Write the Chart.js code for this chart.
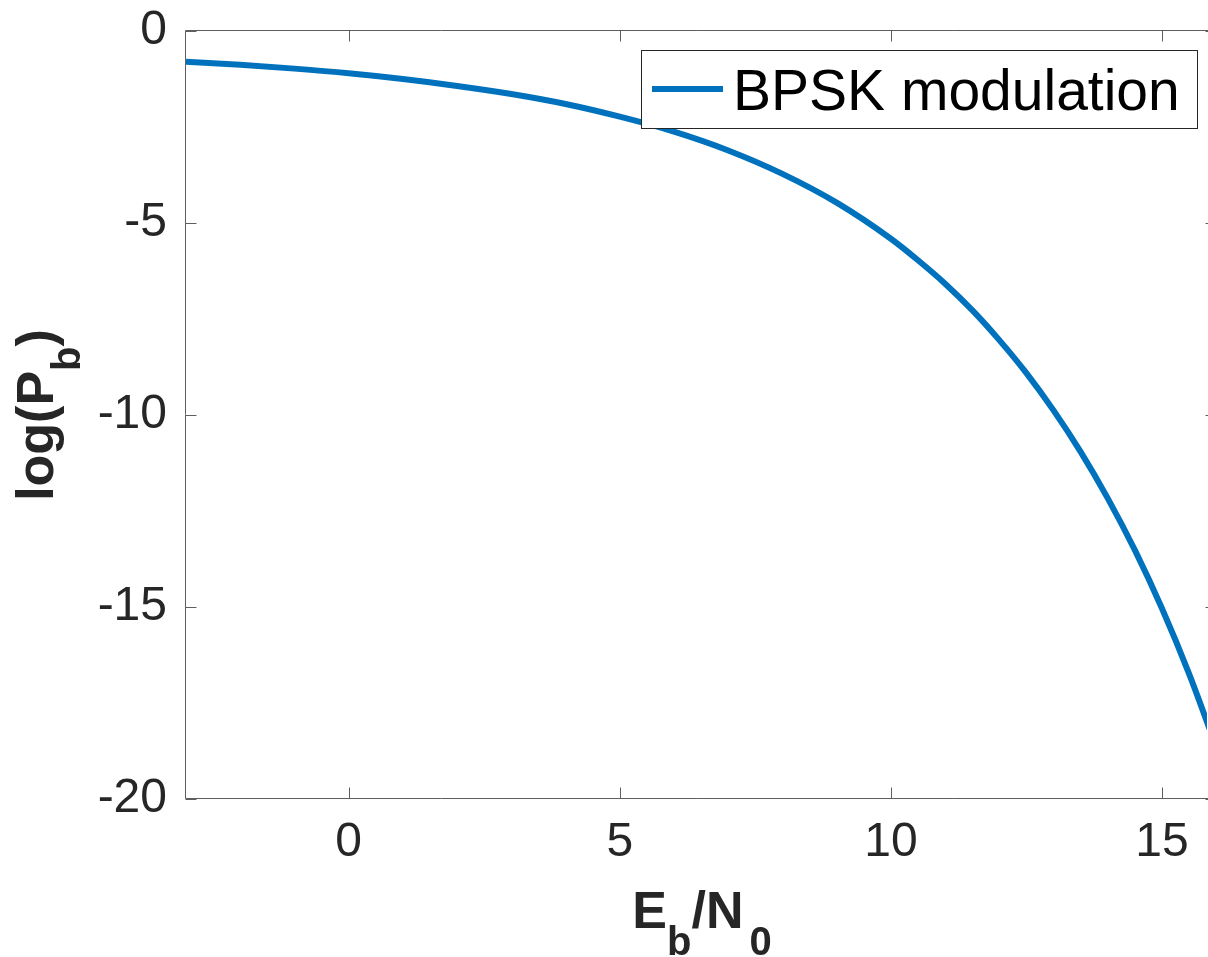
<!DOCTYPE html>
<html>
<head>
<meta charset="utf-8">
<title>BPSK bit error probability</title>
<script src="https://cdn.jsdelivr.net/npm/chart.js@4/dist/chart.umd.min.js"></script>
<style>
  html, body { margin: 0; padding: 0; background: #fff; }
  canvas { display: block; }
</style>
</head>
<body>
<canvas id="chart" width="1208" height="957"></canvas>
<script>
// Eb/N0 in dB and log10 of bit error probability
const ebn0 = [-3, -2, -1, 0, 1, 2, 3, 4, 5, 6, 7, 8, 9, 10, 10.5, 11, 11.5, 12, 12.5, 13, 13.5, 14, 14.5, 15, 15.5, 16];
const logPb = [-0.80, -0.88, -0.98, -1.10, -1.25, -1.43, -1.64, -1.90, -2.23, -2.62, -3.11, -3.72, -4.47, -5.41, -5.97, -6.58, -7.27, -8.05, -8.91, -9.88, -10.96, -12.17, -13.52, -15.04, -16.74, -18.65];
const seriesLabel = "BPSK modulation";

// the picture is cut a little before the right end of the axes box (x = 16)
const xVisibleMax = 15.83;
const xBoxMax = 16;

const FONT = "'Liberation Sans', Arial, Helvetica, sans-serif";
const TEXT = "#262626";
const BLUE = "#0072BD";

// draw a string made of normal and subscript pieces, centred on x
function drawRich(ctx, parts, cx, baseY, size, subSize, subDrop) {
    var w = 0;
    parts.forEach(function (p) {
        ctx.font = "bold " + (p[1] ? subSize : size) + "px " + FONT;
        w += ctx.measureText(p[0]).width + (p[2] || 0);
    });
    var x = cx - w / 2;
    ctx.textBaseline = "alphabetic";
    ctx.textAlign = "left";
    parts.forEach(function (p) {
        ctx.font = "bold " + (p[1] ? subSize : size) + "px " + FONT;
        ctx.fillText(p[0], x, baseY + (p[1] ? subDrop : 0));
        x += ctx.measureText(p[0]).width + (p[2] || 0);
    });
}

// MATLAB-like box, inward ticks, axis titles and legend
const matlabLook = {
    id: "matlabLook",
    afterDraw(chart) {
        const ctx = chart.ctx;
        const a = chart.chartArea;
        const xs = chart.scales.x, ys = chart.scales.y;
        const L = Math.round(a.left) - 0.5;
        const R = Math.round(xs.getPixelForValue(xBoxMax)) + 0.5;
        const T = Math.round(a.top) - 0.5, B = Math.round(a.bottom) - 0.5;
        const tick = 11;

        ctx.save();
        ctx.strokeStyle = "#5e5e5e";
        ctx.lineWidth = 1;
        ctx.beginPath();
        ctx.rect(L, T, R - L, B - T);
        xs.ticks.forEach(function (t) {
            var px = Math.round(xs.getPixelForValue(t.value)) + 0.5;
            ctx.moveTo(px, B); ctx.lineTo(px, B - tick);
            ctx.moveTo(px, T); ctx.lineTo(px, T + tick);
        });
        ys.ticks.forEach(function (t) {
            var py = Math.round(ys.getPixelForValue(t.value)) + 0.5;
            ctx.moveTo(L, py); ctx.lineTo(L + tick, py);
            ctx.moveTo(R, py); ctx.lineTo(R - tick, py);
        });
        ctx.stroke();

        // axis titles
        ctx.fillStyle = TEXT;
        drawRich(ctx, [["E", 0], ["b", 1], ["/", 0], ["N", 0, 6], ["0", 1]],
            702, 928, 52, 40, 27);
        ctx.save();
        ctx.translate(53, (a.top + a.bottom) / 2);
        ctx.rotate(-Math.PI / 2);
        drawRich(ctx, [["log(P", 0], ["b", 1], [")", 0]], 0, 0, 52, 40, 27);
        ctx.restore();

        // legend
        var ds = chart.data.datasets[0];
        ctx.fillStyle = "#fff";
        ctx.fillRect(642, 50, 556, 78);
        ctx.strokeStyle = "#262626";
        ctx.strokeRect(641.5, 50.5, 556, 78);
        ctx.strokeStyle = ds.borderColor;
        ctx.lineWidth = 6;
        ctx.beginPath();
        ctx.moveTo(652, 89); ctx.lineTo(723, 89);
        ctx.stroke();
        ctx.fillStyle = "#000";
        ctx.font = "57px " + FONT;
        ctx.textBaseline = "alphabetic";
        ctx.textAlign = "left";
        ctx.fillText(ds.label, 733, 110);
        ctx.restore();
    }
};

var points = [];
for (var i = 0; i < ebn0.length; i++)
    points.push({ x: ebn0[i], y: logPb[i] });

var ctx = document.getElementById("chart").getContext("2d");
new Chart(ctx, {
    type: "line",
    data: {
        datasets: [
            {
                label: seriesLabel,
                data: points,
                borderColor: BLUE,
                backgroundColor: BLUE,
                borderWidth: 6,
                pointRadius: 0,
                fill: false,
                cubicInterpolationMode: "monotone"
            }
        ]
    },
    options: {
        responsive: false,
        animation: false,
        devicePixelRatio: 1,
        layout: { padding: { left: 0, right: 1, top: 31, bottom: 0 } },
        plugins: { legend: { display: false }, tooltip: { enabled: false } },
        scales: {
            x: {
                type: "linear",
                min: -3,
                max: xVisibleMax,
                grid: { drawOnChartArea: false, drawTicks: false },
                border: { display: false },
                ticks: {
                    stepSize: 5,
                    includeBounds: false,
                    color: TEXT,
                    padding: 15,
                    maxRotation: 0,
                    font: { family: FONT, size: 48, lineHeight: 1.2 }
                },
                afterFit: function (scale) {
                    scale.height = 158;
                    scale.paddingLeft = 0;
                    scale.paddingRight = 0;
                }
            },
            y: {
                type: "linear",
                min: -20,
                max: 0,
                grid: { drawOnChartArea: false, drawTicks: false },
                border: { display: false },
                ticks: {
                    stepSize: 5,
                    color: TEXT,
                    padding: 19,
                    font: { family: FONT, size: 48, lineHeight: 1.2 }
                },
                afterFit: function (scale) {
                    scale.width = 186;
                    scale.paddingTop = 0;
                    scale.paddingBottom = 0;
                }
            }
        }
    },
    plugins: [matlabLook]
});
</script>
</body>
</html>
